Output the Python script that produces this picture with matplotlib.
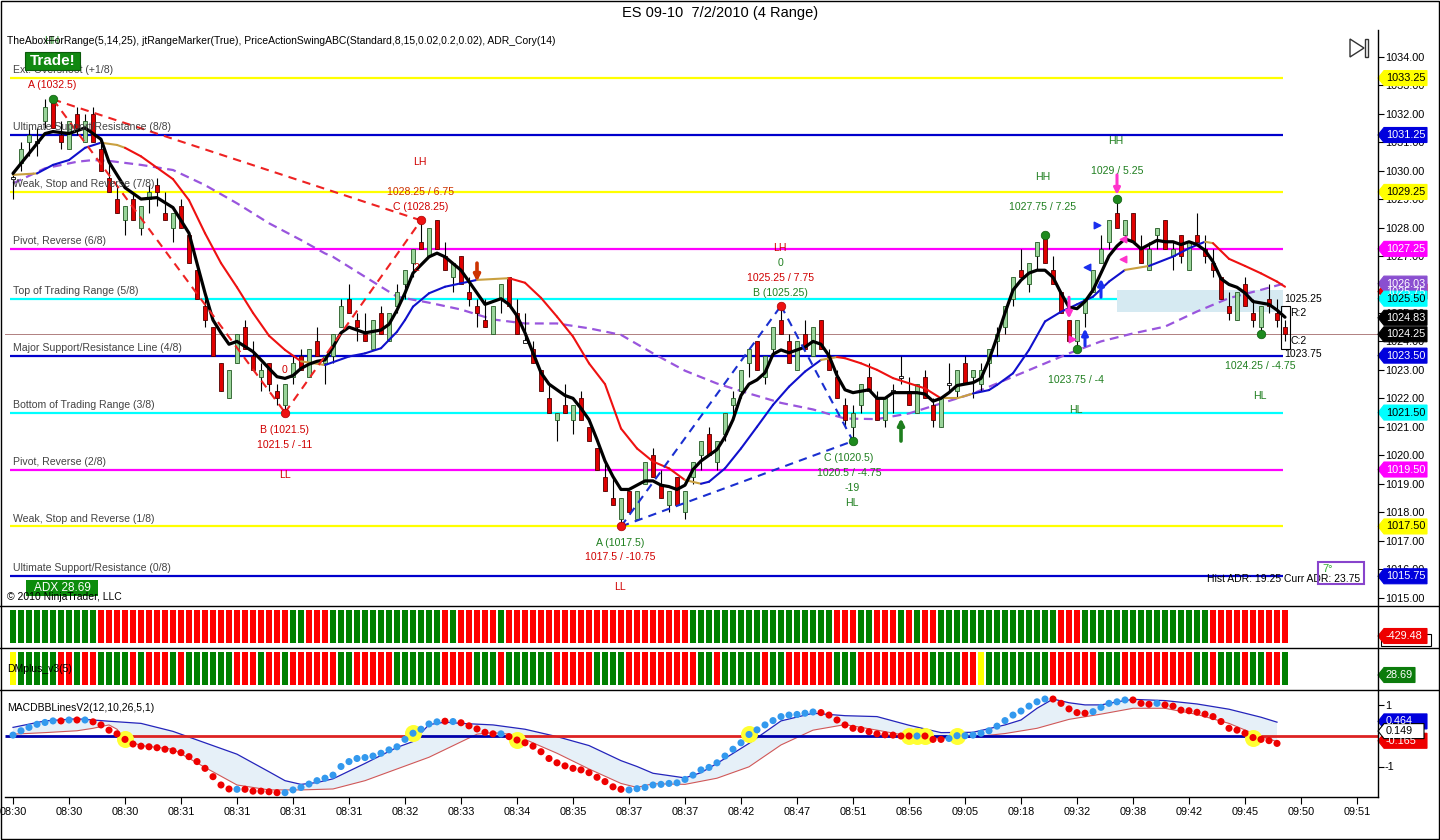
import numpy as np
import matplotlib
matplotlib.use('Agg')
import matplotlib.pyplot as plt
from matplotlib.patches import Polygon, Rectangle
from matplotlib.transforms import blended_transform_factory

plt.rcParams['font.family'] = ['Liberation Sans', 'DejaVu Sans']

W, H = 1440, 840

# ---- range bars ----
bar_open = [1029.75, 1030.25, 1031.0, 1031.0, 1031.75, 1032.5, 1031.25, 1030.75, 1032.0, 1031.0,
            1032.0, 1030.75, 1029.75, 1029.0, 1028.25, 1029.0, 1028.0, 1029.0, 1029.5, 1028.5,
            1028.0, 1028.75, 1027.75, 1026.5, 1025.25, 1024.5, 1023.25, 1022.0, 1023.25, 1024.5,
            1023.5, 1022.75, 1023.25, 1022.25, 1021.75, 1022.75, 1023.5, 1022.75, 1024.0, 1023.25,
            1023.5, 1024.5, 1025.5, 1024.75, 1024.25, 1023.75, 1025.0, 1024.0, 1025.25, 1026.0,
            1026.75, 1027.5, 1027.0, 1028.25, 1027.0, 1026.25, 1027.0, 1025.75, 1025.25, 1024.75,
            1024.25, 1025.5, 1026.25, 1025.0, 1024.0, 1023.75, 1023.0, 1022.0, 1021.25, 1021.75,
            1021.25, 1022.0, 1021.0, 1020.25, 1019.25, 1018.5, 1017.75, 1018.75, 1017.75, 1019.0,
            1020.0, 1019.0, 1018.25, 1019.25, 1018.0, 1019.25, 1020.0, 1020.75, 1019.75, 1020.75,
            1021.75, 1022.25, 1023.25, 1024.0, 1022.75, 1023.75, 1024.75, 1024.0, 1023.0, 1024.25,
            1023.5, 1024.75, 1023.5, 1022.75, 1021.75, 1021.0, 1021.75, 1022.75, 1022.0, 1021.25,
            1022.25, 1022.75, 1022.25, 1021.5, 1022.75, 1021.75, 1021.0, 1022.5, 1022.25, 1023.25,
            1022.75, 1022.5, 1023.25, 1024.0, 1024.5, 1025.5, 1026.5, 1026.0, 1027.0, 1027.75,
            1026.5, 1025.75, 1024.75, 1024.0, 1025.0, 1025.75, 1026.75, 1027.5, 1028.5, 1027.75,
            1028.5, 1027.25, 1026.5, 1027.75, 1028.25, 1027.0, 1027.75, 1026.5, 1027.75, 1027.25,
            1026.75, 1026.25, 1025.25, 1024.75, 1026.0, 1025.0, 1024.5, 1025.5, 1025.0, 1024.5]
bar_high = [1030.0, 1031.0, 1031.5, 1031.5, 1032.5, 1032.5, 1031.75, 1031.75, 1032.25, 1032.0,
            1032.25, 1031.0, 1030.25, 1029.5, 1028.75, 1029.25, 1028.75, 1029.5, 1029.75, 1029.25,
            1028.5, 1029.0, 1027.75, 1026.5, 1025.5, 1024.5, 1023.25, 1023.0, 1024.25, 1024.75,
            1024.0, 1023.25, 1023.25, 1022.5, 1022.5, 1023.5, 1023.75, 1023.75, 1024.5, 1023.5,
            1024.25, 1025.5, 1026.0, 1025.0, 1025.0, 1024.75, 1025.25, 1025.0, 1026.0, 1026.5,
            1027.25, 1028.25, 1028.0, 1028.25, 1027.5, 1026.75, 1027.0, 1026.25, 1025.5, 1025.5,
            1025.25, 1026.0, 1026.25, 1025.5, 1025.0, 1024.0, 1023.0, 1022.5, 1021.5, 1022.5,
            1021.75, 1022.25, 1021.0, 1020.25, 1019.75, 1019.25, 1018.5, 1018.75, 1018.75, 1019.75,
            1020.25, 1019.5, 1018.75, 1019.25, 1018.75, 1019.75, 1020.5, 1021.0, 1020.5, 1021.5,
            1022.25, 1023.0, 1023.75, 1024.0, 1023.5, 1024.5, 1025.25, 1024.25, 1024.0, 1024.75,
            1024.5, 1024.75, 1023.75, 1023.0, 1022.0, 1021.75, 1022.5, 1023.25, 1022.25, 1022.0,
            1022.5, 1023.5, 1022.75, 1022.5, 1023.0, 1022.0, 1022.0, 1023.25, 1023.0, 1023.5,
            1023.0, 1023.25, 1023.75, 1024.5, 1025.25, 1026.25, 1027.25, 1026.75, 1027.5, 1027.75,
            1027.0, 1025.75, 1024.75, 1024.75, 1025.5, 1026.5, 1027.75, 1028.25, 1029.0, 1028.25,
            1028.5, 1027.75, 1027.5, 1028.0, 1028.25, 1027.5, 1027.75, 1027.5, 1028.5, 1027.75,
            1027.25, 1026.25, 1025.75, 1025.75, 1026.25, 1025.5, 1025.25, 1026.0, 1025.5, 1024.75]
bar_low = [1029.0, 1030.0, 1030.5, 1030.5, 1031.5, 1031.5, 1030.75, 1030.75, 1031.25, 1031.0,
           1031.0, 1030.0, 1029.25, 1028.5, 1027.75, 1028.25, 1027.75, 1028.5, 1028.75, 1028.25,
           1027.5, 1028.0, 1026.75, 1025.5, 1024.5, 1023.5, 1022.25, 1022.0, 1023.25, 1023.75,
           1023.0, 1022.25, 1022.25, 1021.75, 1021.5, 1022.5, 1023.0, 1022.75, 1023.5, 1022.5,
           1023.25, 1024.5, 1025.0, 1024.0, 1024.0, 1023.75, 1024.25, 1024.0, 1025.0, 1025.5,
           1026.25, 1027.25, 1027.0, 1027.25, 1026.5, 1025.75, 1026.0, 1025.25, 1024.5, 1024.5,
           1024.25, 1025.0, 1025.25, 1024.25, 1024.0, 1023.25, 1022.25, 1021.5, 1020.5, 1021.5,
           1020.75, 1021.25, 1020.5, 1019.5, 1018.75, 1018.25, 1017.5, 1018.0, 1017.75, 1019.0,
           1019.25, 1018.5, 1018.0, 1018.25, 1017.75, 1019.0, 1019.5, 1020.0, 1019.5, 1020.5,
           1021.25, 1022.0, 1022.75, 1023.0, 1022.5, 1023.5, 1024.25, 1023.25, 1023.0, 1023.75,
           1023.5, 1023.75, 1023.0, 1022.0, 1021.0, 1020.5, 1021.5, 1022.25, 1021.25, 1021.0,
           1021.5, 1022.5, 1021.75, 1021.5, 1022.0, 1021.0, 1021.0, 1022.25, 1022.0, 1022.5,
           1022.0, 1022.25, 1022.75, 1023.5, 1024.25, 1025.25, 1026.25, 1025.75, 1026.5, 1026.75,
           1026.0, 1025.0, 1024.0, 1023.75, 1024.5, 1025.75, 1026.75, 1027.25, 1028.0, 1027.5,
           1027.5, 1026.75, 1026.5, 1027.25, 1027.25, 1026.5, 1026.75, 1026.5, 1027.5, 1026.75,
           1026.25, 1025.5, 1024.75, 1024.75, 1025.25, 1024.5, 1024.25, 1025.0, 1024.5, 1024.0]
bar_close = [1029.75, 1030.75, 1031.25, 1031.0, 1032.25, 1031.5, 1031.0, 1031.75, 1031.5, 1031.75,
             1031.0, 1030.0, 1029.25, 1028.5, 1028.75, 1028.25, 1028.75, 1029.25, 1029.25, 1028.25,
             1028.5, 1028.0, 1026.75, 1025.5, 1024.75, 1023.5, 1022.25, 1023.0, 1024.25, 1023.75,
             1023.0, 1023.0, 1022.5, 1022.0, 1022.5, 1023.25, 1023.0, 1023.75, 1023.5, 1023.5,
             1024.25, 1025.25, 1025.0, 1024.5, 1024.0, 1024.75, 1024.25, 1025.0, 1025.75, 1026.5,
             1027.25, 1027.25, 1028.0, 1027.25, 1026.5, 1026.75, 1026.0, 1025.5, 1025.0, 1024.5,
             1025.25, 1026.0, 1025.25, 1024.25, 1024.0, 1023.25, 1022.25, 1021.5, 1021.5, 1021.5,
             1021.75, 1021.25, 1020.5, 1019.5, 1018.75, 1018.25, 1018.5, 1018.0, 1018.75, 1019.75,
             1019.25, 1018.5, 1018.75, 1018.25, 1018.75, 1019.75, 1020.5, 1020.0, 1020.5, 1021.5,
             1022.0, 1023.0, 1023.75, 1023.0, 1023.5, 1024.5, 1024.25, 1023.25, 1024.0, 1023.75,
             1024.5, 1023.75, 1023.0, 1022.0, 1021.25, 1021.5, 1022.5, 1022.25, 1021.25, 1022.0,
             1022.25, 1022.75, 1021.75, 1022.5, 1022.0, 1021.25, 1022.0, 1022.5, 1023.0, 1022.5,
             1023.0, 1023.0, 1023.75, 1024.25, 1025.25, 1026.25, 1026.25, 1026.75, 1027.5, 1026.75,
             1026.0, 1025.0, 1024.0, 1024.75, 1025.5, 1026.5, 1027.25, 1028.25, 1028.0, 1028.25,
             1027.5, 1026.75, 1027.25, 1028.0, 1027.25, 1027.25, 1027.0, 1027.5, 1027.5, 1027.0,
             1026.5, 1025.5, 1025.0, 1025.75, 1025.25, 1024.75, 1025.25, 1025.25, 1024.75, 1024.25]

# fast average (thick black line)
fast_pts = [(0, 1029.9), (2, 1030.6), (4, 1031.3), (5, 1031.37), (7, 1031.3), (9, 1031.5), (11, 1031.1),
            (12, 1030.3), (14, 1029.4), (16, 1029.0), (18, 1029.05), (20, 1028.7), (22, 1027.8),
            (23, 1026.74), (24, 1025.7), (25, 1024.75), (26, 1024.3), (27, 1023.9), (28, 1024.0),
            (30, 1023.64), (31, 1023.35), (32, 1023.05), (33, 1022.76), (34, 1022.7), (35, 1022.8),
            (36, 1023.05), (37, 1023.2), (38, 1023.3), (39, 1023.35), (40, 1023.8), (41, 1024.3),
            (42, 1024.5), (44, 1024.3), (46, 1024.4), (47, 1024.6), (48, 1025.1), (49, 1025.7),
            (50, 1026.4), (52, 1026.97), (53, 1027.1), (54, 1026.97), (56, 1026.5), (58, 1025.7),
            (59, 1025.3), (61, 1025.5), (62, 1025.3), (63, 1024.9), (64, 1024.3), (65, 1023.6),
            (66, 1022.9), (67, 1022.5), (69, 1022.1), (70, 1022.0), (71, 1021.65), (72, 1021.25),
            (73, 1020.55), (74, 1019.8), (75, 1019.25), (76, 1018.8), (77, 1018.8), (78, 1018.95),
            (79, 1019.1), (80, 1019.1), (81, 1018.95), (82, 1018.9), (83, 1018.8), (84, 1018.95),
            (85, 1019.5), (86, 1019.8), (87, 1020.0), (88, 1020.2), (89, 1020.65), (90, 1021.25),
            (91, 1022.1), (92, 1022.5), (93, 1022.65), (94, 1022.9), (95, 1023.55), (96, 1023.7),
            (97, 1023.6), (98, 1023.7), (99, 1023.8), (100, 1024.0), (101, 1023.9), (102, 1023.5),
            (103, 1022.8), (104, 1022.3), (105, 1022.2), (106, 1022.25), (107, 1022.3), (108, 1022.0),
            (109, 1022.0), (110, 1022.2), (111, 1022.2), (112, 1022.2), (113, 1022.2), (114, 1022.15),
            (115, 1021.9), (116, 1022.0), (117, 1022.2), (118, 1022.45), (119, 1022.5), (120, 1022.55),
            (121, 1022.7), (122, 1023.35), (123, 1024.15), (124, 1025.0), (125, 1025.8), (126, 1026.15),
            (127, 1026.4), (128, 1026.5), (129, 1026.5), (130, 1026.25), (131, 1025.7), (132, 1025.2),
            (133, 1025.15), (134, 1025.4), (135, 1025.8), (136, 1026.4), (137, 1027.0), (138, 1027.35),
            (139, 1027.6), (140, 1027.5), (141, 1027.25), (142, 1027.4), (143, 1027.55), (144, 1027.5),
            (145, 1027.5), (146, 1027.4), (147, 1027.5), (148, 1027.4), (149, 1027.2), (150, 1026.8),
            (151, 1026.2), (152, 1026.0), (153, 1025.9), (154, 1025.7), (155, 1025.4), (156, 1025.35),
            (157, 1025.3), (158, 1025.1), (159, 1024.85)]

# trend average (blue rising / red falling / gold flat)
trend_bars = [0, 3, 5, 7, 9, 11, 13, 14, 16, 18, 20, 22, 24, 26, 28, 30, 32, 34, 36, 39, 42, 44, 46, 47,
              48, 49, 50, 52, 54, 56, 58, 62, 64, 66, 68, 70, 72, 74, 76, 78, 80, 82, 84, 86, 87, 89,
              91, 93, 95, 97, 99, 101, 103, 104, 106, 108, 110, 112, 114, 116, 118, 120, 122, 123,
              125, 127, 129, 131, 133, 135, 137, 139, 142, 145, 147, 149, 150, 152, 154, 156, 158, 159]
trend_vals = [1029.85, 1029.9, 1030.2, 1030.37, 1030.8, 1030.98, 1030.9, 1030.8, 1030.5, 1030.1, 1029.7,
              1028.96, 1027.8, 1026.75, 1025.9, 1025.0, 1024.2, 1023.7, 1023.3, 1023.17, 1023.47,
              1023.58, 1023.76, 1024.05, 1024.34, 1024.75, 1025.22, 1025.69, 1025.92, 1026.04, 1026.16,
              1026.22, 1026.06, 1025.53, 1024.87, 1024.17, 1023.23, 1022.5, 1020.94, 1020.24, 1019.78,
              1019.54, 1019.13, 1019.0, 1019.07, 1019.54, 1020.24, 1021.0, 1021.77, 1022.41, 1022.94,
              1023.35, 1023.45, 1023.41, 1023.23, 1023.0, 1022.71, 1022.53, 1022.35, 1022.0, 1022.0,
              1022.17, 1022.29, 1022.47, 1022.88, 1023.7, 1024.7, 1025.04, 1025.3, 1025.57, 1026.1,
              1026.51, 1026.65, 1026.98, 1027.27, 1027.5, 1027.45, 1026.9, 1026.65, 1026.39, 1026.1, 1025.92]
trend_colour_from = [(0, 'g'), (3, 'b'), (11, 'g'), (14, 'r'), (36, 'g'), (39, 'b'), (58, 'g'), (62, 'r'),
                     (84, 'g'), (86, 'b'), (101, 'g'), (103, 'r'), (116, 'g'), (120, 'b'), (139, 'g'),
                     (142, 'b'), (149, 'g'), (150, 'r')]

# slow average (purple dashed)
slow_bars = [0, 4, 8, 10, 12, 16, 20, 24, 28, 32, 36, 39, 40, 44, 48, 52, 56, 60, 64, 68, 72, 76, 80, 84,
             88, 92, 96, 100, 104, 108, 112, 116, 120, 124, 128, 132, 136, 140, 144, 148, 152, 156, 159]
slow_vals = [1029.55, 1030.08, 1030.31, 1030.37, 1030.34, 1030.2, 1030.02, 1029.49, 1028.85, 1028.15,
             1027.56, 1027.09, 1026.97, 1026.27, 1025.57, 1025.36, 1025.12, 1024.77, 1024.63, 1024.63,
             1024.46, 1024.23, 1023.58, 1022.97, 1022.52, 1022.17, 1021.84, 1021.61, 1021.29, 1021.27,
             1021.47, 1021.82, 1022.17, 1022.64, 1023.11, 1023.58, 1024.0, 1024.28, 1024.52, 1025.05,
             1025.52, 1025.81, 1026.04]

# Murrey math levels
level_vals = [1033.25, 1031.25, 1029.25, 1027.25, 1025.50, 1023.50, 1021.50, 1019.50, 1017.50, 1015.75]
level_names = ['Ext. Overshoot (+1/8)', 'Ultimate Support/Resistance (8/8)', 'Weak, Stop and Reverse (7/8)',
               'Pivot, Reverse (6/8)', 'Top of Trading Range (5/8)', 'Major Support/Resistance Line (4/8)',
               'Bottom of Trading Range (3/8)', 'Pivot, Reverse (2/8)', 'Weak, Stop and Reverse (1/8)',
               'Ultimate Support/Resistance (0/8)']
level_colours = ['#ffff00', '#0000cc', '#ffff00', '#ff00ff', '#00ffff', '#0000cc', '#00ffff', '#ff00ff',
                 '#ffff00', '#0000cc']

# swing points
swing_red = [(34, 1021.5), (51, 1028.25), (76, 1017.5), (96, 1025.25)]
swing_green = [(5, 1032.5), (105, 1020.5), (129, 1027.75), (133, 1023.75), (138, 1029.0), (156, 1024.25)]

# price-axis tags: value, text, fill, text colour
price_tags = [(1033.25, '1033.25', '#ffff00', 'black'), (1031.25, '1031.25', '#0000dd', 'white'),
              (1029.25, '1029.25', '#ffff00', 'black'), (1027.25, '1027.25', '#ff00ff', 'white'),
              (1025.75, '1025.75', '#ee0000', 'white'), (1026.03, '1026.03', '#8a4fd0', 'white'),
              (1025.50, '1025.50', '#00ffff', 'black'), (1024.25, '1024.25', 'black', 'white'),
              (1024.83, '1024.83', 'black', 'white'), (1023.50, '1023.50', '#0000dd', 'white'),
              (1021.50, '1021.50', '#00ffff', 'black'), (1019.50, '1019.50', '#ff00ff', 'white'),
              (1017.50, '1017.50', '#ffff00', 'black'), (1015.75, '1015.75', '#0000dd', 'white')]

# colour strips (run lengths, left to right)
strip1_runs = [('G', 11), ('R', 24), ('G', 2), ('R', 3), ('G', 14), ('R', 1), ('G', 1), ('R', 5), ('G', 1),
               ('R', 23), ('G', 18), ('R', 3), ('G', 2), ('R', 3), ('G', 1), ('R', 1), ('G', 1), ('R', 2),
               ('G', 15), ('R', 3), ('G', 16), ('R', 10)]
strip2_runs = [('Y', 1), ('G', 5), ('R', 2), ('G', 1), ('R', 2), ('G', 4), ('R', 1), ('G', 1), ('R', 3),
               ('G', 1), ('R', 1), ('G', 6), ('R', 3), ('G', 1), ('R', 2), ('G', 1), ('R', 6), ('G', 2),
               ('R', 5), ('G', 6), ('R', 4), ('G', 3), ('R', 1), ('G', 6), ('R', 5), ('G', 4), ('R', 9),
               ('G', 2), ('R', 1), ('G', 5), ('R', 1), ('G', 2), ('R', 6), ('G', 3), ('R', 9), ('G', 4),
               ('R', 2), ('Y', 1), ('G', 8), ('R', 6), ('G', 3), ('R', 9), ('G', 2), ('R', 1), ('G', 3),
               ('R', 1), ('G', 2), ('R', 2), ('G', 1)]

# MACD dots
macd_vals = [0.02, 0.16, 0.27, 0.37, 0.43, 0.48, 0.48, 0.51, 0.51, 0.51, 0.45, 0.35, 0.18, 0.06, -0.12,
             -0.27, -0.34, -0.36, -0.39, -0.44, -0.49, -0.55, -0.68, -0.84, -1.06, -1.33, -1.6, -1.73,
             -1.74, -1.74, -1.8, -1.8, -1.82, -1.85, -1.85, -1.76, -1.68, -1.57, -1.46, -1.38, -1.28,
             -1.0, -0.84, -0.74, -0.71, -0.66, -0.57, -0.46, -0.36, -0.12, 0.08, 0.21, 0.38, 0.45, 0.47,
             0.46, 0.42, 0.32, 0.22, 0.11, 0.06, 0.06, -0.03, -0.14, -0.23, -0.34, -0.52, -0.74, -0.88,
             -0.98, -1.06, -1.11, -1.2, -1.35, -1.49, -1.66, -1.74, -1.76, -1.72, -1.68, -1.6, -1.58,
             -1.55, -1.53, -1.42, -1.28, -1.11, -1.03, -0.88, -0.66, -0.44, -0.23, 0.04, 0.19, 0.35,
             0.49, 0.62, 0.67, 0.69, 0.73, 0.77, 0.75, 0.67, 0.51, 0.35, 0.24, 0.2, 0.13, 0.06, 0.03,
             0.02, -0.01, -0.01, -0.01, -0.01, -0.12, -0.12, -0.09, 0.0, 0.0, 0.02, 0.08, 0.16, 0.31,
             0.49, 0.67, 0.8, 0.96, 1.1, 1.19, 1.19, 1.05, 0.87, 0.75, 0.73, 0.78, 0.92, 1.05, 1.1,
             1.16, 1.16, 1.05, 1.02, 1.05, 1.0, 0.96, 0.83, 0.81, 0.76, 0.7, 0.62, 0.46, 0.24, 0.18,
             0.08, -0.06, -0.12, -0.16, -0.25]
macd_dot_runs = [('b', 6), ('r', 1), ('b', 1), ('r', 1), ('b', 1), ('r', 18), ('b', 1), ('r', 5), ('b', 20),
                 ('r', 1), ('b', 1), ('r', 5), ('b', 1), ('r', 15), ('b', 24), ('r', 12), ('b', 1), ('r', 3),
                 ('b', 13), ('r', 5), ('b', 5), ('r', 3), ('b', 1), ('r', 15)]
upper_bars = [0, 4, 8, 12, 16, 20, 24, 28, 32, 34, 36, 38, 40, 44, 48, 50, 52, 54, 56, 60, 64, 68, 72, 76,
              78, 80, 84, 86, 88, 92, 96, 100, 104, 108, 112, 116, 120, 124, 126, 128, 130, 132, 134,
              136, 138, 140, 144, 148, 152, 156, 158]
upper_vals = [0.27, 0.48, 0.55, 0.47, 0.40, 0.14, -0.23, -0.6, -1.17, -1.46, -1.58, -1.52, -1.4, -0.9,
              -0.38, -0.19, 0.36, 0.44, 0.40, 0.35, 0.21, -0.03, -0.32, -0.81, -1.0, -1.22, -1.37, -1.2,
              -0.9, -0.25, 0.48, 0.73, 0.65, 0.62, 0.34, 0.10, 0.11, 0.35, 0.51, 0.89, 1.19, 1.07, 1.0,
              1.0, 1.1, 1.18, 1.14, 1.03, 0.86, 0.60, 0.44]
lower_bars = [0, 4, 8, 10, 12, 13, 14, 16, 20, 24, 28, 32, 36, 40, 44, 48, 52, 56, 58, 60, 62, 64, 68, 72,
              76, 78, 80, 84, 88, 92, 96, 100, 104, 108, 112, 116, 120, 124, 128, 132, 136, 140, 144,
              148, 152, 156, 158]
lower_vals = [0.05, 0.10, 0.16, 0.24, 0.35, 0.21, -0.14, -0.32, -0.44, -1.03, -1.6, -1.76, -1.76, -1.73,
              -1.46, -1.08, -0.7, -0.2, 0.05, 0.10, 0.05, -0.12, -0.57, -1.08, -1.55, -1.68, -1.56,
              -1.58, -1.38, -1.01, -0.3, 0.18, 0.36, 0.18, -0.01, -0.09, -0.04, 0.07, 0.24, 0.53, 0.70,
              0.89, 0.89, 0.69, 0.40, -0.03, -0.19]
zero_segments = [(-1, 14, 'b'), (14, 50, 'r'), (50, 63, 'b'), (63, 92, 'r'), (92, 155, 'b'), (155, 171, 'r')]
cross_bars = [14, 50, 63, 92, 112, 113, 114, 118, 155]

time_labels = ['08:30', '08:30', '08:30', '08:31', '08:31', '08:31', '08:31', '08:32', '08:33', '08:34',
               '08:35', '08:37', '08:37', '08:42', '08:47', '08:51', '08:56', '09:05', '09:18', '09:32',
               '09:38', '09:42', '09:45', '09:50', '09:51']

RED = '#d00000'
GRN = '#1f7f1f'


def runs_to_list(runs):
    out = []
    for ch, n in runs:
        out.extend([ch] * n)
    return out


fig = plt.figure(figsize=(W / 100, H / 100), dpi=100)


def px_axes(x0, y0, x1, y1, **kw):
    return fig.add_axes([x0 / W, 1 - y1 / H, (x1 - x0) / W, (y1 - y0) / H], **kw)


def bare(ax):
    for s in ax.spines.values():
        s.set_visible(False)


XL = (-1.0, (1378 - 13) / 8.0)

# ================= main price panel =================
ax = px_axes(5, 28, 1378, 606)
bare(ax)
P_LO, P_HI = 1034 - (606 - 56.7) / 28.47, 1034 + (56.7 - 28) / 28.47
PPU = 28.47

o = np.array(bar_open); h = np.array(bar_high); l = np.array(bar_low); c = np.array(bar_close)
bars = np.arange(len(o))

for v, col in zip(level_vals, level_colours):
    ax.hlines(v, -0.4, 158.75, color=col, lw=1.6, zorder=1)
for v, name in zip(level_vals, level_names):
    ax.text(0, v + 0.1, name, fontsize=7.6, color='#444444', va='bottom', ha='left', zorder=6)
ax.axhline(1024.25, color='#b08080', lw=0.7, zorder=1)

# shaded zone and current bar box
ax.add_patch(Rectangle((138, 1025.05), 20.75, 0.75, fc='#d6eaf2', ec='none', zorder=1.5))
ax.add_patch(Rectangle((158.5, 1023.75), 1.1, 1.5, fc='none', ec='black', lw=0.8, zorder=3.5))

ax.plot(slow_bars, slow_vals, color='#9955dd', lw=1.6, dashes=(4, 2.5), zorder=2)

ax.vlines(bars, l, h, color='black', lw=0.8, zorder=3)
up = c > o
dn = c < o
dj = c == o
ax.bar(bars[up], (c - o)[up], bottom=o[up], width=0.55, color='#9ad49a', edgecolor='#245a24', lw=0.6, zorder=3.1)
ax.bar(bars[dn], (o - c)[dn], bottom=c[dn], width=0.55, color='#e00000', edgecolor='#500000', lw=0.6, zorder=3.1)
ax.bar(bars[dj], 0.08, bottom=o[dj] - 0.04, width=0.55, color='white', edgecolor='black', lw=0.6, zorder=3.1)

cmap = {'g': '#c9a040', 'b': '#1010cc', 'r': '#ee1111'}
for k in range(len(trend_bars) - 1):
    st = [cc for b0, cc in trend_colour_from if b0 <= trend_bars[k]][-1]
    ax.plot(trend_bars[k:k + 2], trend_vals[k:k + 2], color=cmap[st], lw=1.5, zorder=4,
            solid_capstyle='round')

fb, fv = zip(*fast_pts)
ax.plot(fb, fv, color='black', lw=2.3, zorder=4.5, solid_capstyle='round')

# swing lines
A, B, C = (5, 1032.5), (34, 1021.5), (51, 1028.25)
for p, q in [(A, C), (A, B), (B, C)]:
    ax.plot([p[0], q[0]], [p[1], q[1]], color='#ee2222', lw=1.5, dashes=(4, 3), zorder=5)
A2, B2, C2 = (76, 1017.5), (96, 1025.25), (105, 1020.5)
for p, q in [(A2, B2), (B2, C2), (A2, C2)]:
    ax.plot([p[0], q[0]], [p[1], q[1]], color='#1a2fd0', lw=1.5, dashes=(4, 3), zorder=5)

ax.scatter(*zip(*swing_red), s=38, color='#ee1111', edgecolor='#aa0000', lw=0.5, zorder=6)
ax.scatter(*zip(*swing_green), s=38, color='#1e8a1e', edgecolor='#0c5a0c', lw=0.5, zorder=6)


def arrow(x, y0, y1, col, lw=2.2):
    ax.annotate('', xy=(x, y1), xytext=(x, y0), zorder=6,
                arrowprops=dict(arrowstyle='-|>', color=col, lw=lw, mutation_scale=9, shrinkA=0, shrinkB=0))


arrow(138, 1029.85, 1029.15, '#ff33cc')
arrow(132, 1025.55, 1024.8, '#ff33cc')
arrow(134, 1023.85, 1024.45, '#1a2fee')
arrow(136, 1025.55, 1026.2, '#1a2fee')
arrow(111, 1020.5, 1021.3, '#1e7e1e', lw=2.6)
arrow(58, 1026.75, 1026.1, '#cc3300', lw=2.6)
ax.scatter([134.2], [1026.6], marker='<', s=22, color='#1a2fee', zorder=6)
ax.scatter([135.5], [1028.1], marker='>', s=22, color='#1a2fee', zorder=6)
ax.scatter([138.7, 138.7], [1027.6, 1026.9], marker='<', s=22, color='#ff33cc', zorder=6)
ax.scatter([132.4], [1024.1], marker='>', s=22, color='#ff33cc', zorder=6)

FS = 7.6
labels = [
    (4.9, 1034.55, 'HH', GRN), (4.9, 1033.0, 'A (1032.5)', RED),
    (34, 1023.0, '0', RED), (34, 1020.88, 'B (1021.5)', RED), (34, 1020.35, '1021.5 / -11', RED),
    (34, 1019.3, 'LL', RED),
    (50.9, 1030.3, 'LH', RED), (50.9, 1029.24, '1028.25 / 6.75', '#cc3300'),
    (50.9, 1028.72, 'C (1028.25)', RED), (50.4, 1026.57, '2', RED),
    (95.9, 1027.28, 'LH', RED), (95.9, 1026.75, '0', GRN), (95.9, 1026.22, '1025.25 / 7.75', RED),
    (95.9, 1025.7, 'B (1025.25)', GRN),
    (75.9, 1016.92, 'A (1017.5)', GRN), (75.9, 1016.42, '1017.5 / -10.75', RED), (75.9, 1015.36, 'LL', RED),
    (104.4, 1019.9, 'C (1020.5)', GRN), (104.6, 1019.38, '1020.5 / -4.75', GRN),
    (104.9, 1018.85, '-19', GRN), (104.9, 1018.32, 'HL', GRN),
    (128.75, 1029.77, 'HH', GRN), (128.75, 1028.72, '1027.75 / 7.25', GRN),
    (137.9, 1031.04, 'HH', GRN), (138.0, 1029.98, '1029 / 5.25', GRN),
    (132.9, 1022.64, '1023.75 / -4', GRN), (132.9, 1021.59, 'HL', GRN),
    (155.9, 1023.14, '1024.25 / -4.75', GRN), (155.9, 1022.08, 'HL', GRN),
]
for x, y, t, col in labels:
    ax.text(x, y, t, fontsize=FS, color=col, ha='center', va='center', zorder=7, clip_on=False)
for y, t in [(1025.5, '1025.25'), (1025.0, 'R:2'), (1024.0, 'C:2'), (1023.55, '1023.75')]:
    ax.text(158.9 if t[0] == '1' else 159.7, y, t, fontsize=7.5, color='black', ha='left', va='center', zorder=7)

ax.text(149.2, 1015.67, 'Hist ADR: 19.25 Curr ADR: 23.75', fontsize=7.5, color='black', ha='left',
        va='center', zorder=7)
ax.text(0.0015, 0.978, 'TheAboxForRange(5,14,25), jtRangeMarker(True), PriceActionSwingABC(Standard,8,15,'
        '0.02,0.2,0.02), ADR_Cory(14)', transform=ax.transAxes, fontsize=7.5, va='center', zorder=7)

ax.yaxis.tick_right()
ax.set_yticks(np.arange(1015, 1035))
ax.set_yticklabels(['%.2f' % v for v in np.arange(1015, 1035)])
ax.tick_params(axis='y', length=4, width=0.8, pad=1, labelsize=7.8, colors='black')
ax.set_xticks([])


def tag(axis, val, text, fc, tc, ppu, x_right=1427, ec=None, x_tip=1378):
    tr = blended_transform_factory(fig.transFigure, axis.transData)
    hh = 7.5 / ppu
    xs = np.array([x_tip, x_tip + 6, x_right, x_right, x_tip + 6]) / W
    ys = [val, val + hh, val + hh, val - hh, val - hh]
    axis.add_patch(Polygon(list(zip(xs, ys)), closed=True, fc=fc, ec=ec or fc, lw=0.8, transform=tr,
                           clip_on=False, zorder=20))
    axis.text((x_tip + 8) / W, val, text, transform=tr, fontsize=7.8, color=tc, va='center', ha='left',
              clip_on=False, zorder=21)


for v, t, fc, tc in price_tags:
    tag(ax, v, t, fc, tc, PPU)

ax.set_xlim(*XL)
ax.set_ylim(P_LO, P_HI)

# ================= colour strips =================
col_of = {'G': '#008000', 'R': '#ff0000', 'Y': '#ffff00'}
for (y0, y1), runs in [((606, 648), strip1_runs), ((648, 690), strip2_runs)]:
    sa = px_axes(5, y0, 1378, y1)
    bare(sa)
    seq = runs_to_list(runs)
    sa.bar(np.arange(len(seq)), 33 / 42, bottom=5 / 42, width=0.86, color=[col_of[s] for s in seq],
           lw=0, zorder=2)
    sa.set_xlim(*XL)
    sa.set_ylim(0, 1)
    sa.set_xticks([])
    sa.set_yticks([])
    if y0 == 606:
        tr = blended_transform_factory(fig.transFigure, sa.transAxes)
        sa.add_patch(Rectangle((1381 / W, 0.04), 50 / W, 0.3, transform=tr, fc='white', ec='black', lw=0.8,
                               clip_on=False, zorder=19))
        sa.text(1385 / W, 0.17, '-1555.63', transform=tr, fontsize=7.5, va='center', clip_on=False, zorder=19.5)
        tag(sa, (648 - 636) / 42, '-429.48', '#ee0000', 'white', 42)
    else:
        sa.text(0.0015, 0.5, 'DMplus_v3(5)', transform=sa.transAxes, fontsize=7.5, va='center', zorder=5)
        tag(sa, (690 - 675) / 42, '28.69', '#0c7c0c', 'white', 42, x_right=1415)

# ================= MACD panel =================
am = px_axes(5, 690, 1378, 797)
bare(am)
MPU = 30.8
am.fill(np.concatenate([upper_bars, lower_bars[::-1]]), np.concatenate([upper_vals, lower_vals[::-1]]),
        color='#e6f0f8', lw=0, zorder=1)
am.plot(upper_bars, upper_vals, color='#2424bb', lw=0.9, zorder=2)
am.plot(lower_bars, lower_vals, color='#d05858', lw=0.8, zorder=2)
for x0, x1, cc in zero_segments:
    am.hlines(0, x0, x1, color='#0000aa' if cc == 'b' else '#dd2222', lw=2.0, zorder=2.5)
am.scatter(cross_bars, [macd_vals[b] if b < len(macd_vals) else 0 for b in cross_bars], s=150,
           color='#ffff33', lw=0, zorder=3)
dcol = runs_to_list(macd_dot_runs)
n = min(len(dcol), len(macd_vals))
am.scatter(np.arange(n), macd_vals[:n], s=26, lw=0, zorder=4,
           color=['#3399ee' if d == 'b' else '#ee0000' for d in dcol[:n]])
am.text(0.0015, 0.83, 'MACDBBLinesV2(12,10,26,5,1)', transform=am.transAxes, fontsize=7.5, va='center', zorder=5)

am.yaxis.tick_right()
am.set_yticks([1, -1])
am.set_yticklabels(['1', '-1'])
am.tick_params(axis='y', length=4, width=0.8, pad=1, labelsize=7.8)
tk = np.arange(0, 7 * len(time_labels), 7)
am.set_xticks(tk)
am.set_xticklabels(time_labels)
am.tick_params(axis='x', length=5, width=0.8, pad=2, labelsize=7.8)
tag(am, 0.464, '0.464', '#0000dd', 'white', MPU)
tag(am, -0.165, '-0.165', '#ee0000', 'white', MPU)
tag(am, 0.149, '0.149', 'white', 'black', MPU, ec='black', x_right=1424)
am.set_xlim(*XL)
am.set_ylim((735.7 - 797) / MPU, (735.7 - 690) / MPU)

# ================= overlay: title, frame, boxes =================
ov = fig.add_axes([0, 0, 1, 1], zorder=10)
ov.set_xlim(0, W)
ov.set_ylim(H, 0)
ov.axis('off')
ov.text(720, 13, 'ES 09-10  7/2/2010 (4 Range)', fontsize=10.5, ha='center', va='center')
ov.add_patch(Rectangle((0.5, 0.5), W - 1.5, 838, fc='none', ec='black', lw=1))
for y in (606, 648, 690):
    ov.plot([0, W], [y, y], color='black', lw=1)
ov.plot([5, 1378], [797, 797], color='black', lw=1)
ov.plot([1378, 1378], [30, 797], color='black', lw=1)
ov.add_patch(Rectangle((25, 52), 55, 18, fc='#118811', ec='#0a5a0a', lw=0.8))
ov.text(52.5, 61, 'Trade!', color='white', fontsize=11, fontweight='bold', ha='center', va='center')
ov.text(7, 597, '\u00a9 2010 NinjaTrader, LLC', fontsize=7.5, va='center')
ov.add_patch(Rectangle((26, 580), 72, 16, fc='#0c8c0c', ec='none'))
ov.text(62, 588, 'ADX 28.69', color='white', fontsize=8.5, ha='center', va='center')
ov.add_patch(Rectangle((1318, 562), 46, 22, fc='none', ec='#8844cc', lw=1.5))
ov.text(1322, 569, '7\u00b0', color='#33aa33', fontsize=8, va='center')
ov.add_patch(Polygon([(1350, 39), (1350, 57), (1364, 48)], closed=True, fc='none', ec='#333333', lw=1))
ov.add_patch(Rectangle((1365, 39), 3, 18, fc='none', ec='#333333', lw=1))

fig.savefig('out.png', dpi=100)
